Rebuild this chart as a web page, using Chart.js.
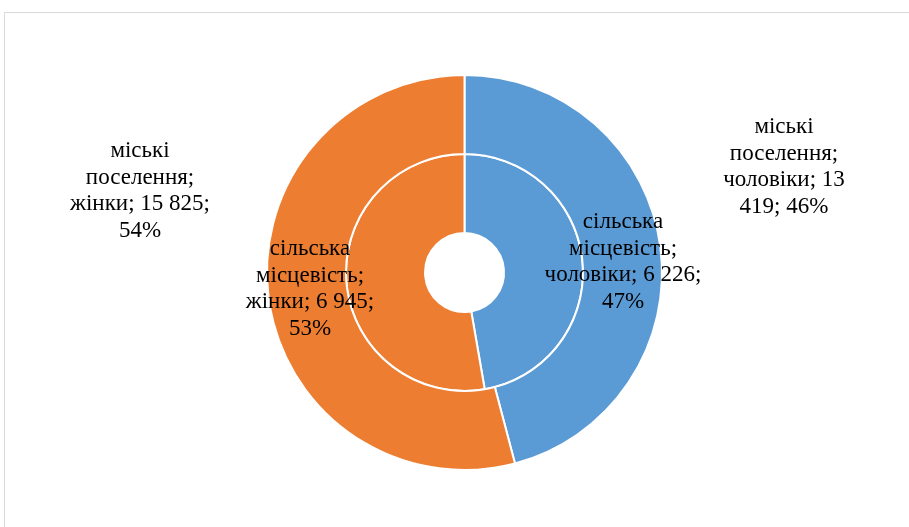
<!DOCTYPE html>
<html>
<head>
<meta charset="utf-8">
<script src="https://cdn.jsdelivr.net/npm/chart.js@4"></script>
<style>
  html, body { margin: 0; padding: 0; background: #fff; }
  #wrap { position: relative; width: 909px; height: 527px; overflow: hidden; }
  #frame { position: absolute; left: 4px; top: 12px; width: 920px; height: 540px; border: 1px solid #d9d9d9; }
  #chart { position: absolute; left: 0; top: 0; }
</style>
</head>
<body>
<div id="wrap">
  <div id="frame"></div>
  <canvas id="chart" width="909" height="527"></canvas>
</div>
<script>
// categories
const genders = ['чоловіки', 'жінки'];
const settlements = ['міські поселення', 'сільська місцевість'];
// series values (outer ring = urban, inner ring = rural)
const urbanValues = [13419, 15825];
const ruralValues = [6226, 6945];
const colors = ['#5b9bd5', '#ed7d31'];

// where each label sits and how wide it may wrap: [dataset][index]
const labelLayout = [
  [{x: 784, y: 167, w: 138}, {x: 140, y: 191, w: 152}],
  [{x: 623, y: 262, w: 175}, {x: 310, y: 289, w: 136}]
];

function fmt(v) {
  return String(v).replace(/\B(?=(\d{3})+(?!\d))/g, ' ');
}

function wrap(ctx, text, maxW) {
  const words = text.split(' ');
  const lines = [];
  let cur = '';
  words.forEach(w => {
    const t = cur ? cur + ' ' + w : w;
    if (cur && ctx.measureText(t).width > maxW) {
      lines.push(cur);
      cur = w;
    } else {
      cur = t;
    }
  });
  if (cur) lines.push(cur);
  return lines;
}

const labelPlugin = {
  id: 'ringLabels',
  afterDatasetsDraw(chart) {
    const ctx = chart.ctx;
    ctx.save();
    ctx.font = '23px "Liberation Serif", "Times New Roman", serif';
    ctx.fillStyle = '#000';
    ctx.textAlign = 'center';
    ctx.textBaseline = 'middle';
    const lh = 26.5;
    chart.data.datasets.forEach((ds, di) => {
      const total = ds.data.reduce((a, b) => a + b, 0);
      ds.data.forEach((v, i) => {
        const pct = Math.round(v / total * 100);
        const text = settlements[di] + '; ' + genders[i] + '; ' + fmt(v) + '; ' + pct + '%';
        const pos = labelLayout[di][i];
        const lines = wrap(ctx, text, pos.w);
        const y0 = pos.y - (lines.length - 1) * lh / 2;
        lines.forEach((l, k) => ctx.fillText(l, pos.x, y0 + k * lh));
      });
    });
    ctx.restore();
  }
};

new Chart(document.getElementById('chart'), {
  type: 'doughnut',
  data: {
    labels: genders,
    datasets: [
      { label: settlements[0], data: urbanValues, backgroundColor: colors, borderColor: '#fff', borderWidth: 2 },
      { label: settlements[1], data: ruralValues, backgroundColor: colors, borderColor: '#fff', borderWidth: 2 }
    ]
  },
  options: {
    responsive: false,
    animation: false,
    devicePixelRatio: 1,
    cutout: '20%',
    layout: { padding: { left: 266, right: 246, top: 74, bottom: 56 } },
    plugins: {
      legend: { display: false },
      tooltip: { enabled: false }
    }
  },
  plugins: [labelPlugin]
});
</script>
</body>
</html>
